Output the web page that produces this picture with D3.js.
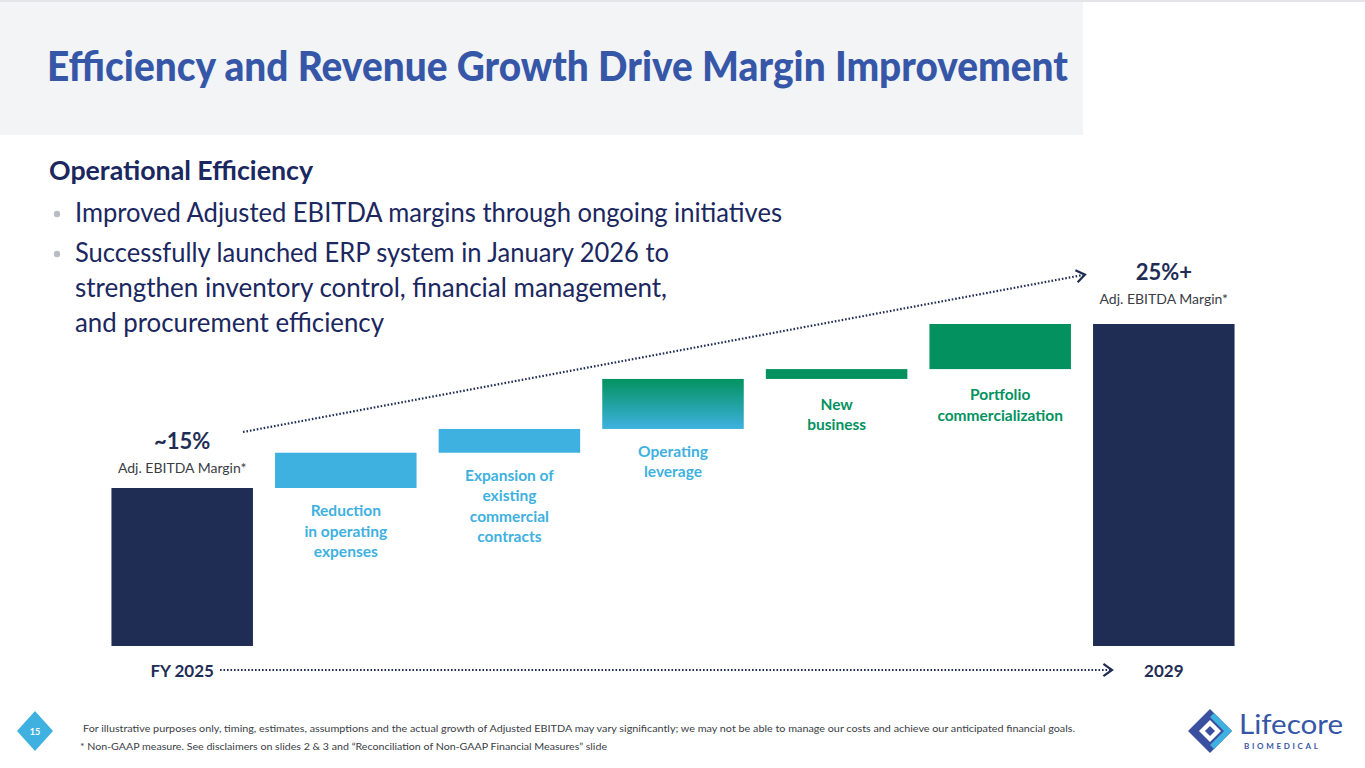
<!DOCTYPE html>
<html>
<head>
<meta charset="utf-8">
<script src="https://cdn.jsdelivr.net/npm/d3@7"></script>
<style>
  html, body { margin: 0; padding: 0; background: #fff; }
  svg { display: block; font-family: "Lato", "Open Sans", sans-serif; }
</style>
</head>
<body>
<svg id="slide" width="1365" height="768"></svg>
<script>
(function () {
    "use strict";

    // waterfall steps, in margin points (illustrative)
    const startLabel = "~15%";
    const endLabel = "25%+";
    const startValue = 15;
    const endValue = 25;
    const stepNames = [
        ["Reduction", "in operating", "expenses"],
        ["Expansion of", "existing", "commercial", "contracts"],
        ["Operating", "leverage"],
        ["New", "business"],
        ["Portfolio", "commercialization"],
    ];
    const stepValues = [2.15, 1.45, 3.05, 0.6, 2.75];
    const stepKinds = ["blue", "blue", "mix", "green", "green"];
    const periodLabels = ["FY 2025", "2029"];
    const bulletLines = [
        ["Improved Adjusted EBITDA margins through ongoing initiatives"],
        ["Successfully launched ERP system in January 2026 to", "strengthen inventory control, financial management,", "and procurement efficiency"],
    ];
    const footnotes = [
        "For illustrative purposes only, timing, estimates, assumptions and the actual growth of Adjusted EBITDA may vary significantly; we may not be able to manage our costs and achieve our anticipated financial goals.",
        "* Non-GAAP measure.  See disclaimers on slides 2 & 3 and \u201cReconciliation of Non-GAAP Financial Measures\u201d slide",
    ];

    const navy = "#1f2d55";
    const blue = "#3eb1e0";
    const green = "#03925f";
    const titleBlue = "#3657a7";
    const textNavy = "#1b2760";

    const svg = d3.select("#slide");
    const defs = svg.append("defs");

    const grad = defs.append("linearGradient").attr("id", "mixGrad").attr("x1", 0).attr("y1", 0).attr("x2", 0).attr("y2", 1);
    grad.append("stop").attr("offset", "0%").attr("stop-color", green);
    grad.append("stop").attr("offset", "100%").attr("stop-color", blue);

    // header band
    svg.append("rect").attr("x", 0).attr("y", 0).attr("width", 1365).attr("height", 2).attr("fill", "#e3e5e8");
    svg.append("rect").attr("x", 0).attr("y", 2).attr("width", 1083).attr("height", 133).attr("fill", "#f2f4f6");
    svg.append("text")
        .attr("x", 47).attr("y", 81)
        .attr("font-size", 41).attr("font-weight", 900).attr("fill", titleBlue)
        .attr("textLength", 1021).attr("lengthAdjust", "spacingAndGlyphs")
        .text("Efficiency and Revenue Growth Drive Margin Improvement");

    // left text block
    svg.append("text")
        .attr("x", 49).attr("y", 180)
        .attr("font-size", 26).attr("font-weight", 700).attr("fill", textNavy)
        .attr("textLength", 264).attr("lengthAdjust", "spacingAndGlyphs")
        .text("Operational Efficiency");

    const lineWidths = [[707], [594, 592, 309]];
    let lineY = 222;
    bulletLines.forEach((lines, i) => {
        svg.append("circle").attr("cx", 57).attr("cy", lineY - 8).attr("r", 3.2).attr("fill", "#b9bcc2");
        lines.forEach((line, j) => {
            svg.append("text")
                .attr("x", 75).attr("y", lineY)
                .attr("font-size", 26).attr("fill", textNavy)
                .attr("textLength", lineWidths[i][j]).attr("lengthAdjust", "spacingAndGlyphs")
                .text(line);
            lineY += 35;
        });
        lineY += 5;
    });

    // chart scales
    const columns = ["start"].concat(stepNames.map((d, i) => "s" + i), ["end"]);
    const x = d3.scaleBand().domain(columns).range([100, 1246]).paddingInner(0.135).paddingOuter(0.07);
    const y = d3.scaleLinear().domain([15, 25]).range([488, 324]);
    const baseY = 646;

    // start & end bars
    svg.append("rect")
        .attr("x", x("start")).attr("y", y(startValue))
        .attr("width", x.bandwidth()).attr("height", baseY - y(startValue))
        .attr("fill", navy);
    svg.append("rect")
        .attr("x", x("end")).attr("y", y(endValue))
        .attr("width", x.bandwidth()).attr("height", baseY - y(endValue))
        .attr("fill", navy);

    // floating steps
    let running = startValue;
    const steps = stepValues.map((v, i) => {
        const from = running;
        running += v;
        return { key: "s" + i, from: from, to: running, kind: stepKinds[i], name: stepNames[i] };
    });

    const fillFor = (k) => (k === "blue" ? blue : k === "green" ? green : "url(#mixGrad)");
    const textFor = (k) => (k === "green" ? green : blue);

    svg.selectAll(".step")
        .data(steps)
        .join("rect")
        .attr("class", "step")
        .attr("x", (d) => x(d.key))
        .attr("y", (d) => y(d.to))
        .attr("width", x.bandwidth())
        .attr("height", (d) => y(d.from) - y(d.to))
        .attr("fill", (d) => fillFor(d.kind));

    steps.forEach((d) => {
        const cx = x(d.key) + x.bandwidth() / 2;
        const top = y(d.from) + (d.kind === "green" ? 31 : 28);
        d.name.forEach((line, j) => {
            svg.append("text")
                .attr("x", cx).attr("y", top + j * 20.5)
                .attr("text-anchor", "middle")
                .attr("font-size", 15.5).attr("font-weight", 700)
                .attr("fill", textFor(d.kind))
                .text(line);
        });
    });

    // value labels
    const valueLabel = (key, val, label, off) => {
        const cx = x(key) + x.bandwidth() / 2;
        svg.append("text")
            .attr("x", cx).attr("y", y(val) - 39 - off)
            .attr("text-anchor", "middle")
            .attr("font-size", 22).attr("font-weight", 700).attr("fill", navy)
            .text(label);
        svg.append("text")
            .attr("x", cx).attr("y", y(val) - 15 - off)
            .attr("text-anchor", "middle")
            .attr("font-size", 14).attr("fill", "#3a3d45")
            .text("Adj. EBITDA Margin*");
    };
    valueLabel("start", startValue, startLabel, 0);
    valueLabel("end", endValue, endLabel, 5);

    // dotted arrows
    const dotted = (x1, y1, x2, y2) => {
        svg.append("line")
            .attr("x1", x1).attr("y1", y1).attr("x2", x2).attr("y2", y2)
            .attr("stroke", navy).attr("stroke-width", 2.2)
            .attr("stroke-dasharray", "1.6 1.9");
        const ang = Math.atan2(y2 - y1, x2 - x1);
        const len = 9;
        const pts = [
            [x2 - len * Math.cos(ang - 0.75), y2 - len * Math.sin(ang - 0.75)],
            [x2 + 2 * Math.cos(ang), y2 + 2 * Math.sin(ang)],
            [x2 - len * Math.cos(ang + 0.75), y2 - len * Math.sin(ang + 0.75)],
        ];
        svg.append("path")
            .attr("d", d3.line()(pts))
            .attr("fill", "none").attr("stroke", navy).attr("stroke-width", 2.2)
            .attr("stroke-linejoin", "miter");
    };
    dotted(243, 432, 1083, 275);
    dotted(220, 670, 1110, 670);

    // period labels
    svg.append("text")
        .attr("x", x("start") + x.bandwidth() / 2).attr("y", 677)
        .attr("text-anchor", "middle")
        .attr("font-size", 17).attr("font-weight", 700).attr("fill", navy)
        .text(periodLabels[0]);
    svg.append("text")
        .attr("x", x("end") + x.bandwidth() / 2).attr("y", 677)
        .attr("text-anchor", "middle")
        .attr("font-size", 17).attr("font-weight", 700).attr("fill", navy)
        .text(periodLabels[1]);

    // footer
    svg.append("path")
        .attr("d", "M35,711 L53,731 L35,751 L17,731 Z")
        .attr("fill", blue);
    svg.append("text")
        .attr("x", 35).attr("y", 735)
        .attr("text-anchor", "middle")
        .attr("font-size", 9).attr("font-weight", 700).attr("fill", "#fff")
        .text("15");

    svg.append("text")
        .attr("x", 83).attr("y", 732)
        .attr("font-size", 10).attr("fill", "#3a3d45")
        .attr("textLength", 992).attr("lengthAdjust", "spacingAndGlyphs")
        .text(footnotes[0]);
    svg.append("text")
        .attr("x", 80).attr("y", 750)
        .attr("font-size", 10).attr("fill", "#3a3d45")
        .attr("textLength", 527).attr("lengthAdjust", "spacingAndGlyphs")
        .text(footnotes[1]);

    // logo
    const logo = svg.append("g").attr("transform", "translate(1210,731)");
    logo.append("path").attr("d", "M0,-22 L22,0 L0,22 L-22,0 Z").attr("fill", "#3a4fa0");
    logo.append("path").attr("d", "M4,-18 L22,0 L4,18 L0,14 L14,0 L0,-14 Z").attr("fill", blue);
    logo.append("path").attr("d", "M0,-11 L11,0 L0,11 L-11,0 Z").attr("fill", "#fff");
    logo.append("path").attr("d", "M0,-5 L5,0 L0,5 L-5,0 Z").attr("fill", "#3a4fa0");

    svg.append("text")
        .attr("x", 1239).attr("y", 734)
        .attr("font-size", 27).attr("fill", titleBlue)
        .attr("textLength", 104).attr("lengthAdjust", "spacingAndGlyphs")
        .text("Lifecore");
    svg.append("text")
        .attr("x", 1244).attr("y", 749)
        .attr("font-size", 8).attr("font-weight", 700).attr("fill", titleBlue)
        .attr("textLength", 74).attr("lengthAdjust", "spacing")
        .text("BIOMEDICAL");
})();
</script>
</body>
</html>
